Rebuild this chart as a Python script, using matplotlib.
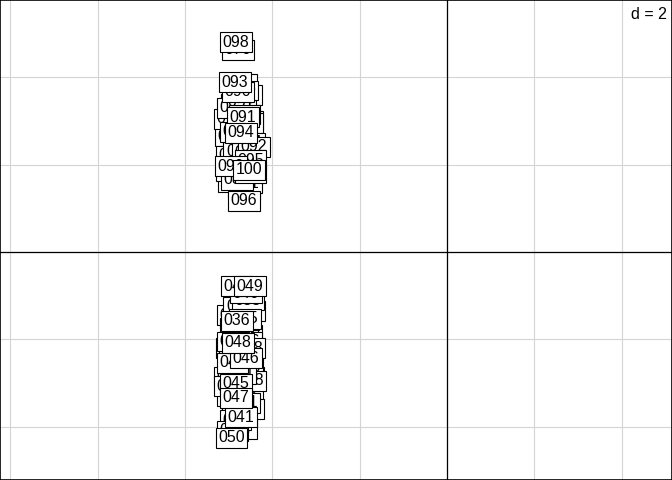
import matplotlib
matplotlib.use("Agg")
import matplotlib.pyplot as plt
import numpy as np

plt.rcParams['font.family'] = ['Liberation Sans', 'DejaVu Sans']

# row labels 001..100
labels = ["%03d" % i for i in range(1, 101)]

# coordinates of the rows (hidden ones estimated)
x_low = [-4.70, -4.74, -4.85, -4.60, -4.78, -4.65, -4.90, -4.55, -4.80, -4.68,
         -4.95, -4.58, -4.75, -4.62, -4.88, -4.52, -4.72, -4.82, -4.57, -4.92,
         -4.66, -4.86, -4.54, -4.76, -4.98, -4.60, -4.80, -4.50, -4.70, -4.84,
         -4.64, -4.90, -4.56, -4.74, -4.63, -4.81, -4.85, -4.52, -4.92, -4.60,
         -4.72, -4.92, -4.81, -4.98, -4.83, -4.60, -4.83, -4.79, -4.51, -4.93]
y_low = [-1.20, -1.08, -2.70, -1.90, -3.50, -2.30, -1.45, -2.85, -3.90, -1.70,
         -2.20, -3.20, -0.90, -2.55, -3.00, -1.35, -4.05, -1.95, -2.65, -3.30,
         -1.55, -2.40, -3.60, -1.25, -2.85, -2.05, -3.70, -2.95, -2.25, -1.75,
         -3.45, -2.05, -1.10, -2.80, -1.53, -1.58, -3.85, -2.20, -4.10, -0.95,
         -3.78, -2.54, -0.78, -3.07, -3.02, -2.43, -3.34, -2.08, -0.78, -4.26]

x_up = [-4.70, -4.85, -4.62, -4.78, -4.55, -4.90, -4.68, -4.80, -4.58, -4.88,
        -4.72, -4.65, -4.95, -4.52, -4.75, -4.85, -4.60, -4.92, -4.70, -4.55,
        -4.82, -4.66, -4.98, -4.74, -4.62, -4.79, -4.88, -4.57, -4.76, -4.68,
        -4.60, -4.90, -4.72, -4.53, -4.84, -4.64, -4.94, -4.56, -4.81, -4.79,
        -4.67, -4.42, -4.86, -4.72, -4.50, -4.65, -4.50, -4.83, -4.95, -4.54]
y_up = [3.30, 2.00, 2.55, 3.75, 2.20, 2.90, 1.75, 3.55, 3.00, 2.40,
        3.85, 1.45, 2.65, 2.35, 3.20, 1.80, 3.60, 2.20, 2.85, 1.95,
        3.40, 2.10, 3.05, 3.44, 2.65, 4.63, 1.60, 2.95, 2.30, 3.70,
        1.58, 3.30, 1.90, 2.50, 2.75, 3.15, 1.85, 2.27, 1.65, 3.67,
        3.09, 2.41, 3.89, 2.73, 2.10, 1.17, 1.80, 4.81, 1.97, 1.88]

x = x_low + x_up
y = y_low + y_up

fig = plt.figure(figsize=(6.72, 4.8), dpi=100)
ax = fig.add_axes([0, 0, 1, 1])
ax.set_xlim(-10.24, 5.155)
ax.set_ylim(-5.223, 5.773)

for gx in np.arange(-10, 5, 2):
    ax.axvline(gx, color='#d4d4d4', lw=0.8, zorder=0)
for gy in np.arange(-4, 6, 2):
    ax.axhline(gy, color='#d4d4d4', lw=0.8, zorder=0)
ax.axvline(0, color='black', lw=0.9, zorder=1)
ax.axhline(0, color='black', lw=0.9, zorder=1)

for i, lab in enumerate(labels):
    ax.text(x[i], y[i], lab, ha='center', va='center', fontsize=11.5,
            zorder=2 + i,
            bbox=dict(boxstyle='square,pad=0.15', fc='white', ec='black', lw=0.8))

ax.text(0.993, 0.985, "d = 2", transform=ax.transAxes, ha='right', va='top',
        fontsize=11.5, zorder=200,
        bbox=dict(boxstyle='square,pad=0.15', fc='white', ec='none'))

ax.set_xticks([])
ax.set_yticks([])
for s in ax.spines.values():
    s.set_color('black')
    s.set_linewidth(1.2)

fig.savefig("out.png", dpi=100)
